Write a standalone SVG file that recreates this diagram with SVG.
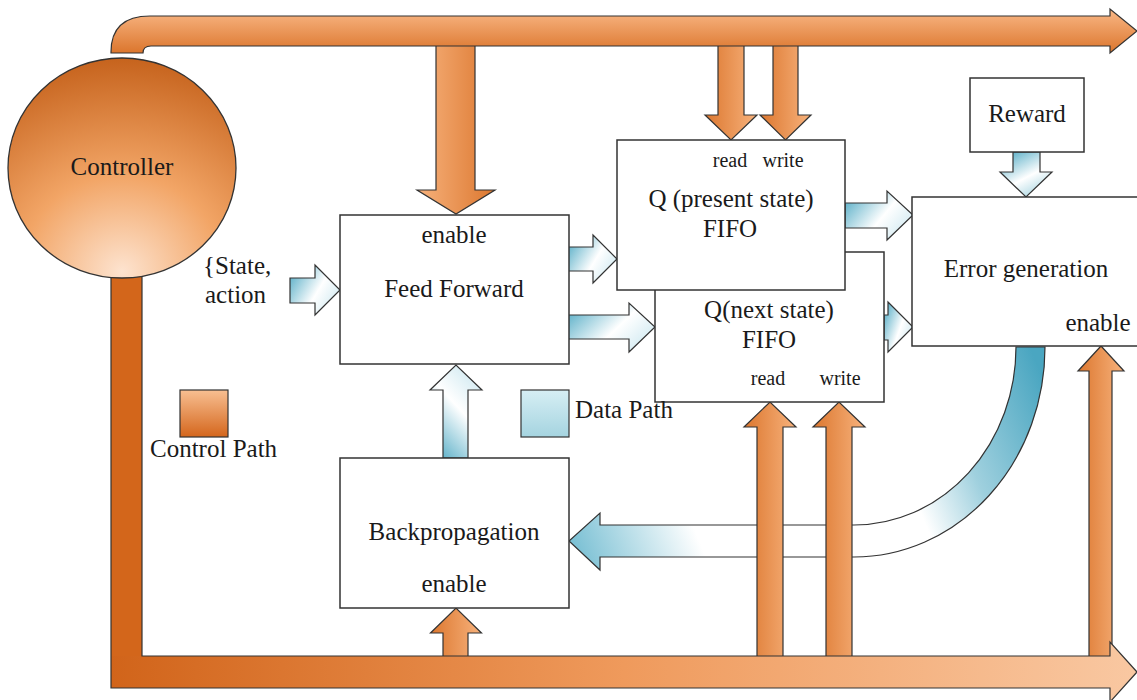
<svg xmlns="http://www.w3.org/2000/svg" width="1137" height="700" viewBox="0 0 1137 700">
<style>
  text { font-family: "Liberation Serif", "Times New Roman", serif; fill: #1a1a1a; }
  .t25 { font-size: 25px; }
  .t20 { font-size: 20px; }
  .mid { text-anchor: middle; }
  .box { fill: #ffffff; stroke: #333333; stroke-width: 1.5; }
  .edge { stroke: #333333; stroke-width: 1.2; stroke-linejoin: miter; }
</style>
<defs>
  <linearGradient id="gTop" gradientUnits="userSpaceOnUse" x1="0" y1="14" x2="0" y2="52">
    <stop offset="0" stop-color="#f6b07c"/>
    <stop offset="1" stop-color="#dc772f"/>
  </linearGradient>
  <linearGradient id="gBottom" gradientUnits="userSpaceOnUse" x1="111" y1="0" x2="1137" y2="0">
    <stop offset="0" stop-color="#d1641a"/>
    <stop offset="0.5" stop-color="#ef9a5c"/>
    <stop offset="1" stop-color="#f9c8a2"/>
  </linearGradient>
  <radialGradient id="gCtrl" cx="0.5" cy="1" r="1" fx="0.5" fy="0.97">
    <stop offset="0" stop-color="#fde3cf"/>
    <stop offset="0.45" stop-color="#f2a566"/>
    <stop offset="1" stop-color="#c6631d"/>
  </radialGradient>
  <linearGradient id="gOrLight" x1="0" y1="0" x2="1" y2="0">
    <stop offset="0" stop-color="#f7b27c"/>
    <stop offset="1" stop-color="#dc772f"/>
  </linearGradient>
  <linearGradient id="gOrDark" x1="0" y1="0" x2="1" y2="0">
    <stop offset="0" stop-color="#dc772f"/>
    <stop offset="1" stop-color="#f7b27c"/>
  </linearGradient>
  <linearGradient id="gCtrlLegend" x1="0" y1="0" x2="0" y2="1">
    <stop offset="0" stop-color="#f8bf92"/>
    <stop offset="1" stop-color="#d4661c"/>
  </linearGradient>
  <linearGradient id="gDataLegend" x1="0" y1="0" x2="0" y2="1">
    <stop offset="0" stop-color="#d6eef4"/>
    <stop offset="1" stop-color="#a5d4e0"/>
  </linearGradient>
  <linearGradient id="gBlueR" x1="0" y1="0.2" x2="1" y2="0.8">
    <stop offset="0" stop-color="#5eb1c9"/>
    <stop offset="0.55" stop-color="#ffffff"/>
    <stop offset="1" stop-color="#cde8f0"/>
  </linearGradient>
  <linearGradient id="gBlueU" x1="0.2" y1="1" x2="0.8" y2="0">
    <stop offset="0" stop-color="#5eb1c9"/>
    <stop offset="0.55" stop-color="#ffffff"/>
    <stop offset="1" stop-color="#cde8f0"/>
  </linearGradient>
  <linearGradient id="gBlueD" x1="0.2" y1="0" x2="0.8" y2="1">
    <stop offset="0" stop-color="#5eb1c9"/>
    <stop offset="0.55" stop-color="#ffffff"/>
    <stop offset="1" stop-color="#9fd1de"/>
  </linearGradient>
  <linearGradient id="gCurve" gradientUnits="userSpaceOnUse" x1="1030" y1="347" x2="569" y2="541">
    <stop offset="0" stop-color="#4aa6c1"/>
    <stop offset="0.2" stop-color="#9fd0de"/>
    <stop offset="0.33" stop-color="#ffffff"/>
    <stop offset="0.76" stop-color="#ffffff"/>
    <stop offset="1" stop-color="#78bfd3"/>
  </linearGradient>
</defs>
<rect x="0" y="0" width="1137" height="700" fill="#ffffff"/>

<g id="connectors">
  <!-- data path arrows -->
  <polygon class="edge" fill="url(#gBlueR)" points="290,278 315,278 315,265 340,290 315,315 315,303 290,303"/>
  <polygon class="edge" fill="url(#gBlueR)" points="568,247 593,247 593,235 617,259 593,283 593,271 568,271"/>
  <polygon class="edge" fill="url(#gBlueR)" points="568,315 629,315 629,303 655,327 629,352 629,339 568,339"/>
  <polygon class="edge" fill="url(#gBlueR)" points="845,203 887,203 887,191 913,215 887,240 887,228 845,228"/>
  <polygon class="edge" fill="url(#gBlueR)" points="884,315 888,315 888,302 913,327 888,352 888,340 884,340"/>
  <polygon class="edge" fill="url(#gBlueU)" points="443,458 443,390 430,390 456,365 482,390 468,390 468,458"/>
  <polygon class="edge" fill="url(#gBlueD)" points="1013,152 1040,152 1040,172 1052,172 1026,197 1000,172 1013,172"/>
  <path class="edge" fill="url(#gCurve)" d="M1016,347 L1045,347 A191,210 0 0 1 854,557 L600,557 L600,570 L569,541 L600,513 L600,525 L854,525 A162,178 0 0 0 1016,347 Z"/>

  <!-- control path arrows -->
  <polygon class="edge" fill="url(#gOrLight)" points="436,44 475,44 475,190 495,190 456,214 417,190 436,190"/>
  <polygon class="edge" fill="url(#gOrDark)" points="718,44 744,44 744,115 757,115 731,140 705,115 718,115"/>
  <polygon class="edge" fill="url(#gOrDark)" points="773,44 798,44 798,115 811,115 785.5,140 760,115 773,115"/>
  <polygon class="edge" fill="url(#gOrDark)" points="443,658 443,633 430.5,633 456,608 481.5,633 468,633 468,658"/>
  <polygon class="edge" fill="url(#gOrDark)" points="757,658 757,427 744,427 770,402 796,427 783,427 783,658"/>
  <polygon class="edge" fill="url(#gOrDark)" points="826,658 826,427 813,427 839,402 865,427 852,427 852,658"/>
  <polygon class="edge" fill="url(#gOrDark)" points="1089,658 1089,371 1078,371 1101,346 1124,371 1112,371 1112,658"/>

  <!-- top control bus -->
  <path class="edge" fill="url(#gTop)" d="M111,53 L111,52 Q111,16 150,16 L1110,16 L1110,9 L1137,31 L1110,53 L1110,46 L151,46 Q143,46 143,53 Z"/>

  <!-- bottom control bus -->
  <rect x="111" y="262" width="31" height="426" fill="#d3661b"/>
  <polygon fill="url(#gBottom)" points="111,656 1110,656 1110,642 1137,672 1110,702 1110,688 111,688"/>
  <path class="edge" fill="none" d="M142,262 L142,656 L1110,656 L1110,642 L1137,672 L1110,702 L1110,688 L111,688 L111,262"/>
</g>

<g id="controller">
  <ellipse cx="122" cy="168" rx="114" ry="110" fill="url(#gCtrl)" stroke="#333333" stroke-width="1.3"/>
  <text class="t25 mid" x="122" y="175">Controller</text>
</g>

<g id="state-action-label">
  <text class="t25" x="203" y="274">{State,</text>
  <text class="t25" x="205" y="303">action</text>
</g>

<g id="feed-forward">
  <rect class="box" x="340" y="215" width="229" height="149"/>
  <text class="t25 mid" x="454" y="243">enable</text>
  <text class="t25 mid" x="454" y="297">Feed Forward</text>
</g>

<g id="backpropagation">
  <rect class="box" x="340" y="458" width="229" height="150"/>
  <text class="t25 mid" x="454" y="540">Backpropagation</text>
  <text class="t25 mid" x="454" y="592">enable</text>
</g>

<g id="q-next-fifo">
  <rect class="box" x="655" y="252" width="229" height="150"/>
  <text class="t25 mid" x="769" y="318">Q(next state)</text>
  <text class="t25 mid" x="769" y="348">FIFO</text>
  <text class="t20 mid" x="768" y="385">read</text>
  <text class="t20 mid" x="840" y="385">write</text>
</g>

<g id="q-present-fifo">
  <rect class="box" x="617" y="140" width="228" height="150"/>
  <text class="t20 mid" x="730" y="167">read</text>
  <text class="t20 mid" x="783" y="167">write</text>
  <text class="t25 mid" x="731" y="207">Q (present state)</text>
  <text class="t25 mid" x="730" y="237">FIFO</text>
</g>

<g id="error-generation">
  <rect class="box" x="912" y="197" width="230" height="149"/>
  <text class="t25 mid" x="1026" y="277">Error generation</text>
  <text class="t25 mid" x="1098" y="331">enable</text>
</g>

<g id="reward">
  <rect class="box" x="970" y="78" width="114" height="74"/>
  <text class="t25 mid" x="1027" y="122">Reward</text>
</g>

<g id="legend-control">
  <rect x="180" y="390" width="48" height="47" fill="url(#gCtrlLegend)" stroke="#333333" stroke-width="1.2"/>
  <text class="t25" x="150" y="457">Control Path</text>
</g>

<g id="legend-data">
  <rect x="521" y="390" width="48" height="47" fill="url(#gDataLegend)" stroke="#333333" stroke-width="1.2"/>
  <text class="t25" x="575" y="418">Data Path</text>
</g>
</svg>
